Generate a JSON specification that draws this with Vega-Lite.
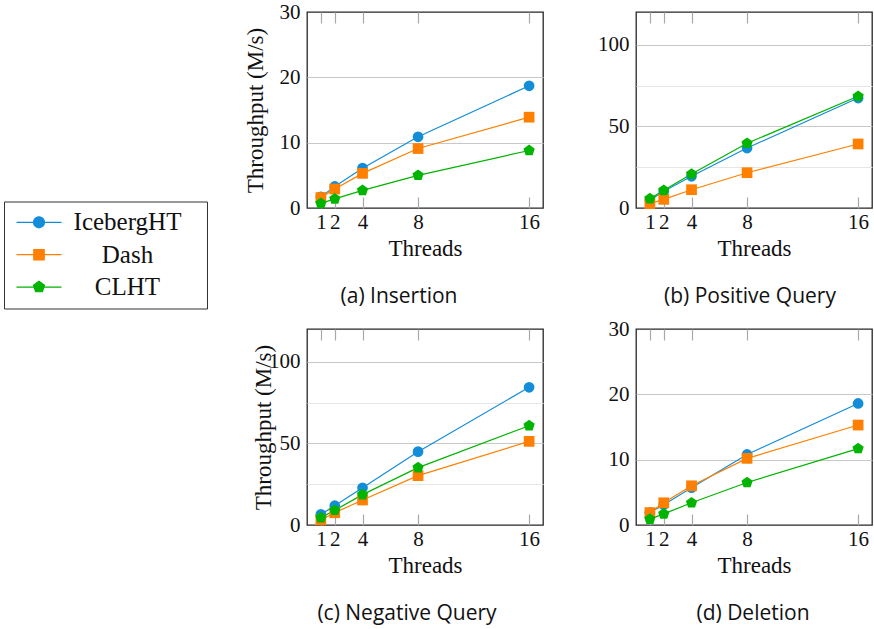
{
  "$schema": "https://vega.github.io/schema/vega-lite/v6.json",
  "padding": {"left": 3, "top": 0, "right": 0, "bottom": 0},
  "datasets": {
    "insertion": [
      {"threads": 1, "table": "IcebergHT", "throughput": 1.7},
      {"threads": 2, "table": "IcebergHT", "throughput": 3.3},
      {"threads": 4, "table": "IcebergHT", "throughput": 6.1},
      {"threads": 8, "table": "IcebergHT", "throughput": 10.9},
      {"threads": 16, "table": "IcebergHT", "throughput": 18.7},
      {"threads": 1, "table": "Dash", "throughput": 1.6},
      {"threads": 2, "table": "Dash", "throughput": 2.9},
      {"threads": 4, "table": "Dash", "throughput": 5.3},
      {"threads": 8, "table": "Dash", "throughput": 9.1},
      {"threads": 16, "table": "Dash", "throughput": 13.9},
      {"threads": 1, "table": "CLHT", "throughput": 0.7},
      {"threads": 2, "table": "CLHT", "throughput": 1.4},
      {"threads": 4, "table": "CLHT", "throughput": 2.7},
      {"threads": 8, "table": "CLHT", "throughput": 5.0},
      {"threads": 16, "table": "CLHT", "throughput": 8.8}
    ],
    "positive": [
      {"threads": 1, "table": "IcebergHT", "throughput": 4.8},
      {"threads": 2, "table": "IcebergHT", "throughput": 10.2},
      {"threads": 4, "table": "IcebergHT", "throughput": 19.4},
      {"threads": 8, "table": "IcebergHT", "throughput": 36.7},
      {"threads": 16, "table": "IcebergHT", "throughput": 67.3},
      {"threads": 1, "table": "Dash", "throughput": 2.7},
      {"threads": 2, "table": "Dash", "throughput": 5.3},
      {"threads": 4, "table": "Dash", "throughput": 11.2},
      {"threads": 8, "table": "Dash", "throughput": 21.6},
      {"threads": 16, "table": "Dash", "throughput": 39.2},
      {"threads": 1, "table": "CLHT", "throughput": 5.7},
      {"threads": 2, "table": "CLHT", "throughput": 10.8},
      {"threads": 4, "table": "CLHT", "throughput": 20.8},
      {"threads": 8, "table": "CLHT", "throughput": 39.6},
      {"threads": 16, "table": "CLHT", "throughput": 68.4}
    ],
    "negative": [
      {"threads": 1, "table": "IcebergHT", "throughput": 6.5},
      {"threads": 2, "table": "IcebergHT", "throughput": 11.8},
      {"threads": 4, "table": "IcebergHT", "throughput": 22.8},
      {"threads": 8, "table": "IcebergHT", "throughput": 44.9},
      {"threads": 16, "table": "IcebergHT", "throughput": 84.3},
      {"threads": 1, "table": "Dash", "throughput": 3.1},
      {"threads": 2, "table": "Dash", "throughput": 7.5},
      {"threads": 4, "table": "Dash", "throughput": 15.3},
      {"threads": 8, "table": "Dash", "throughput": 30.2},
      {"threads": 16, "table": "Dash", "throughput": 51.2},
      {"threads": 1, "table": "CLHT", "throughput": 4.5},
      {"threads": 2, "table": "CLHT", "throughput": 9.0},
      {"threads": 4, "table": "CLHT", "throughput": 18.6},
      {"threads": 8, "table": "CLHT", "throughput": 35.1},
      {"threads": 16, "table": "CLHT", "throughput": 60.8}
    ],
    "deletion": [
      {"threads": 1, "table": "IcebergHT", "throughput": 1.9},
      {"threads": 2, "table": "IcebergHT", "throughput": 3.1},
      {"threads": 4, "table": "IcebergHT", "throughput": 5.7},
      {"threads": 8, "table": "IcebergHT", "throughput": 10.8},
      {"threads": 16, "table": "IcebergHT", "throughput": 18.6},
      {"threads": 1, "table": "Dash", "throughput": 1.9},
      {"threads": 2, "table": "Dash", "throughput": 3.4},
      {"threads": 4, "table": "Dash", "throughput": 6.0},
      {"threads": 8, "table": "Dash", "throughput": 10.2},
      {"threads": 16, "table": "Dash", "throughput": 15.3},
      {"threads": 1, "table": "CLHT", "throughput": 0.9},
      {"threads": 2, "table": "CLHT", "throughput": 1.7},
      {"threads": 4, "table": "CLHT", "throughput": 3.4},
      {"threads": 8, "table": "CLHT", "throughput": 6.5},
      {"threads": 16, "table": "CLHT", "throughput": 11.7}
    ]
  },
  "columns": 2,
  "bounds": "flush",
  "spacing": {"row": 121, "column": 93},
  "resolve": {"scale": {"color": "shared"}, "legend": {"color": "shared"}},
  "concat": [
    {
      "width": 236, "height": 196,
      "data": {"name": "insertion"},
      "title": {"text": "(a) Insertion", "dx": -26},
      "layer": [
        {
          "mark": {"type": "line", "strokeWidth": 1.2},
          "encoding": {
            "x": {"field": "threads", "type": "quantitative", "scale": {"domain": [0, 17], "nice": false, "zero": false},
              "axis": {"orient": "bottom", "values": [1, 2, 4, 8, 16], "title": "Threads", "grid": false, "tickSize": -11, "tickColor": "#a8a8a8", "tickWidth": 1.2, "labelPadding": 14, "labelFlush": false, "labelOverlap": false, "titlePadding": 5, "labelAngle": 0}},
            "y": {"field": "throughput", "type": "quantitative", "scale": {"domain": [0, 30], "nice": false},
              "axis": {"values": [0, 5, 10, 15, 20, 25, 30], "title": "Throughput (M/s)", "labelExpr": "datum.value % 10 === 0 ? datum.label : ''", "ticks": false, "grid": true,
                "gridColor": {"condition": {"test": "datum.value % 10 === 0", "value": "#c8c8c8"}, "value": "#e6e6e6"},
                "gridOpacity": {"condition": {"test": "datum.value === 0 || datum.value === 30", "value": 0}, "value": 1},
                "gridWidth": 1.2, "labelPadding": 7, "titleX": -52, "titleBaseline": "middle"}},
            "color": {"field": "table", "type": "nominal", "scale": {"domain": ["IcebergHT", "Dash", "CLHT"], "range": ["#138dd8", "#ff8000", "#00b400"]},
              "legend": {"orient": "none", "legendX": -303, "legendY": 189.5, "title": null, "strokeColor": "#333333", "padding": 8.3,
                "labelFont": "Liberation Serif", "labelFontSize": 25, "labelColor": "#111111", "labelAlign": "center", "labelOffset": 76, "labelLimit": 300,
                "symbolOffset": 14.2, "symbolSize": 121, "rowPadding": 6.4, "symbolStrokeWidth": 1.2, "symbolOpacity": 1,
                "symbolType": {"expr": "datum.value === 'IcebergHT' ? 'M-4.09,0L4.09,0M1,0A1,1,0,1,1,-1,0A1,1,0,1,1,1,0ZM28.6,0' : datum.value === 'Dash' ? 'M-4.09,0L4.09,0M-0.95,-0.95L0.95,-0.95L0.95,0.95L-0.95,0.95ZM28.6,0' : 'M-4.09,0L4.09,0M0,-1.05L1,-0.324L0.617,0.849L-0.617,0.849L-1,-0.324ZM28.6,0'"},
                "symbolFillColor": {"expr": "scale('color', datum.value)"},
                "symbolStrokeColor": {"expr": "scale('color', datum.value)"}}}
          }
        },
        {
          "transform": [{"filter": {"field": "table", "equal": "IcebergHT"}}],
          "mark": {"type": "point", "shape": "circle", "filled": true, "size": 115, "opacity": 1},
          "encoding": {
            "x": {"field": "threads", "type": "quantitative", "scale": {"domain": [0, 17], "nice": false, "zero": false},
              "axis": {"orient": "top", "values": [1, 2, 4, 8, 16], "title": null, "labels": false, "grid": false, "tickSize": -11, "tickColor": "#a8a8a8", "tickWidth": 1.2}},
            "y": {"field": "throughput", "type": "quantitative"},
            "color": {"field": "table", "type": "nominal", "legend": null}
          }
        },
        {
          "transform": [{"filter": {"field": "table", "equal": "Dash"}}],
          "mark": {"type": "point", "shape": "square", "filled": true, "size": 115, "opacity": 1},
          "encoding": {
            "x": {"field": "threads", "type": "quantitative", "scale": {"domain": [0, 17], "nice": false, "zero": false}, "axis": null},
            "y": {"field": "throughput", "type": "quantitative"},
            "color": {"field": "table", "type": "nominal", "legend": null}
          }
        },
        {
          "transform": [{"filter": {"field": "table", "equal": "CLHT"}}],
          "mark": {"type": "point", "shape": "M0,-1.1L1.046,-0.34L0.647,0.89L-0.647,0.89L-1.046,-0.34Z", "filled": true, "size": 115, "opacity": 1},
          "encoding": {
            "x": {"field": "threads", "type": "quantitative", "scale": {"domain": [0, 17], "nice": false, "zero": false}, "axis": null},
            "y": {"field": "throughput", "type": "quantitative"},
            "color": {"field": "table", "type": "nominal", "legend": null}
          }
        }
      ],
      "resolve": {"axis": {"x": "independent"}}
    },
    {
      "width": 236, "height": 196,
      "data": {"name": "positive"},
      "title": {"text": "(b) Positive Query", "dx": -4},
      "layer": [
        {
          "mark": {"type": "line", "strokeWidth": 1.2},
          "encoding": {
            "x": {"field": "threads", "type": "quantitative", "scale": {"domain": [0, 17], "nice": false, "zero": false},
              "axis": {"orient": "bottom", "values": [1, 2, 4, 8, 16], "title": "Threads", "grid": false, "tickSize": -11, "tickColor": "#a8a8a8", "tickWidth": 1.2, "labelPadding": 14, "labelFlush": false, "labelOverlap": false, "titlePadding": 5, "labelAngle": 0}},
            "y": {"field": "throughput", "type": "quantitative", "scale": {"domain": [0, 120], "nice": false},
              "axis": {"values": [0, 25, 50, 75, 100], "title": null, "labelExpr": "datum.value % 50 === 0 ? datum.label : ''", "ticks": false, "grid": true,
                "gridColor": {"condition": {"test": "datum.value % 50 === 0", "value": "#c8c8c8"}, "value": "#e6e6e6"},
                "gridOpacity": {"condition": {"test": "datum.value === 0", "value": 0}, "value": 1},
                "gridWidth": 1.2, "labelPadding": 7}},
            "color": {"field": "table", "type": "nominal"}
          }
        },
        {
          "transform": [{"filter": {"field": "table", "equal": "IcebergHT"}}],
          "mark": {"type": "point", "shape": "circle", "filled": true, "size": 115, "opacity": 1},
          "encoding": {
            "x": {"field": "threads", "type": "quantitative", "scale": {"domain": [0, 17], "nice": false, "zero": false},
              "axis": {"orient": "top", "values": [1, 2, 4, 8, 16], "title": null, "labels": false, "grid": false, "tickSize": -11, "tickColor": "#a8a8a8", "tickWidth": 1.2}},
            "y": {"field": "throughput", "type": "quantitative"},
            "color": {"field": "table", "type": "nominal", "legend": null}
          }
        },
        {
          "transform": [{"filter": {"field": "table", "equal": "Dash"}}],
          "mark": {"type": "point", "shape": "square", "filled": true, "size": 115, "opacity": 1},
          "encoding": {
            "x": {"field": "threads", "type": "quantitative", "scale": {"domain": [0, 17], "nice": false, "zero": false}, "axis": null},
            "y": {"field": "throughput", "type": "quantitative"},
            "color": {"field": "table", "type": "nominal", "legend": null}
          }
        },
        {
          "transform": [{"filter": {"field": "table", "equal": "CLHT"}}],
          "mark": {"type": "point", "shape": "M0,-1.1L1.046,-0.34L0.647,0.89L-0.647,0.89L-1.046,-0.34Z", "filled": true, "size": 115, "opacity": 1},
          "encoding": {
            "x": {"field": "threads", "type": "quantitative", "scale": {"domain": [0, 17], "nice": false, "zero": false}, "axis": null},
            "y": {"field": "throughput", "type": "quantitative"},
            "color": {"field": "table", "type": "nominal", "legend": null}
          }
        }
      ],
      "resolve": {"axis": {"x": "independent"}}
    },
    {
      "width": 236, "height": 196,
      "data": {"name": "negative"},
      "title": {"text": "(c) Negative Query", "dx": -18},
      "layer": [
        {
          "mark": {"type": "line", "strokeWidth": 1.2},
          "encoding": {
            "x": {"field": "threads", "type": "quantitative", "scale": {"domain": [0, 17], "nice": false, "zero": false},
              "axis": {"orient": "bottom", "values": [1, 2, 4, 8, 16], "title": "Threads", "grid": false, "tickSize": -11, "tickColor": "#a8a8a8", "tickWidth": 1.2, "labelPadding": 14, "labelFlush": false, "labelOverlap": false, "titlePadding": 5, "labelAngle": 0}},
            "y": {"field": "throughput", "type": "quantitative", "scale": {"domain": [0, 120], "nice": false},
              "axis": {"values": [0, 25, 50, 75, 100], "title": "Throughput (M/s)", "labelExpr": "datum.value % 50 === 0 ? datum.label : ''", "ticks": false, "grid": true,
                "gridColor": {"condition": {"test": "datum.value % 50 === 0", "value": "#c8c8c8"}, "value": "#e6e6e6"},
                "gridOpacity": {"condition": {"test": "datum.value === 0", "value": 0}, "value": 1},
                "gridWidth": 1.2, "labelPadding": 7, "titleX": -44, "titleBaseline": "middle"}},
            "color": {"field": "table", "type": "nominal"}
          }
        },
        {
          "transform": [{"filter": {"field": "table", "equal": "IcebergHT"}}],
          "mark": {"type": "point", "shape": "circle", "filled": true, "size": 115, "opacity": 1},
          "encoding": {
            "x": {"field": "threads", "type": "quantitative", "scale": {"domain": [0, 17], "nice": false, "zero": false},
              "axis": {"orient": "top", "values": [1, 2, 4, 8, 16], "title": null, "labels": false, "grid": false, "tickSize": -11, "tickColor": "#a8a8a8", "tickWidth": 1.2}},
            "y": {"field": "throughput", "type": "quantitative"},
            "color": {"field": "table", "type": "nominal", "legend": null}
          }
        },
        {
          "transform": [{"filter": {"field": "table", "equal": "Dash"}}],
          "mark": {"type": "point", "shape": "square", "filled": true, "size": 115, "opacity": 1},
          "encoding": {
            "x": {"field": "threads", "type": "quantitative", "scale": {"domain": [0, 17], "nice": false, "zero": false}, "axis": null},
            "y": {"field": "throughput", "type": "quantitative"},
            "color": {"field": "table", "type": "nominal", "legend": null}
          }
        },
        {
          "transform": [{"filter": {"field": "table", "equal": "CLHT"}}],
          "mark": {"type": "point", "shape": "M0,-1.1L1.046,-0.34L0.647,0.89L-0.647,0.89L-1.046,-0.34Z", "filled": true, "size": 115, "opacity": 1},
          "encoding": {
            "x": {"field": "threads", "type": "quantitative", "scale": {"domain": [0, 17], "nice": false, "zero": false}, "axis": null},
            "y": {"field": "throughput", "type": "quantitative"},
            "color": {"field": "table", "type": "nominal", "legend": null}
          }
        }
      ],
      "resolve": {"axis": {"x": "independent"}}
    },
    {
      "width": 236, "height": 196,
      "data": {"name": "deletion"},
      "title": {"text": "(d) Deletion", "dx": -1},
      "layer": [
        {
          "mark": {"type": "line", "strokeWidth": 1.2},
          "encoding": {
            "x": {"field": "threads", "type": "quantitative", "scale": {"domain": [0, 17], "nice": false, "zero": false},
              "axis": {"orient": "bottom", "values": [1, 2, 4, 8, 16], "title": "Threads", "grid": false, "tickSize": -11, "tickColor": "#a8a8a8", "tickWidth": 1.2, "labelPadding": 14, "labelFlush": false, "labelOverlap": false, "titlePadding": 5, "labelAngle": 0}},
            "y": {"field": "throughput", "type": "quantitative", "scale": {"domain": [0, 30], "nice": false},
              "axis": {"values": [0, 5, 10, 15, 20, 25, 30], "title": null, "labelExpr": "datum.value % 10 === 0 ? datum.label : ''", "ticks": false, "grid": true,
                "gridColor": {"condition": {"test": "datum.value % 10 === 0", "value": "#c8c8c8"}, "value": "#e6e6e6"},
                "gridOpacity": {"condition": {"test": "datum.value === 0 || datum.value === 30", "value": 0}, "value": 1},
                "gridWidth": 1.2, "labelPadding": 7}},
            "color": {"field": "table", "type": "nominal"}
          }
        },
        {
          "transform": [{"filter": {"field": "table", "equal": "IcebergHT"}}],
          "mark": {"type": "point", "shape": "circle", "filled": true, "size": 115, "opacity": 1},
          "encoding": {
            "x": {"field": "threads", "type": "quantitative", "scale": {"domain": [0, 17], "nice": false, "zero": false},
              "axis": {"orient": "top", "values": [1, 2, 4, 8, 16], "title": null, "labels": false, "grid": false, "tickSize": -11, "tickColor": "#a8a8a8", "tickWidth": 1.2}},
            "y": {"field": "throughput", "type": "quantitative"},
            "color": {"field": "table", "type": "nominal", "legend": null}
          }
        },
        {
          "transform": [{"filter": {"field": "table", "equal": "Dash"}}],
          "mark": {"type": "point", "shape": "square", "filled": true, "size": 115, "opacity": 1},
          "encoding": {
            "x": {"field": "threads", "type": "quantitative", "scale": {"domain": [0, 17], "nice": false, "zero": false}, "axis": null},
            "y": {"field": "throughput", "type": "quantitative"},
            "color": {"field": "table", "type": "nominal", "legend": null}
          }
        },
        {
          "transform": [{"filter": {"field": "table", "equal": "CLHT"}}],
          "mark": {"type": "point", "shape": "M0,-1.1L1.046,-0.34L0.647,0.89L-0.647,0.89L-1.046,-0.34Z", "filled": true, "size": 115, "opacity": 1},
          "encoding": {
            "x": {"field": "threads", "type": "quantitative", "scale": {"domain": [0, 17], "nice": false, "zero": false}, "axis": null},
            "y": {"field": "throughput", "type": "quantitative"},
            "color": {"field": "table", "type": "nominal", "legend": null}
          }
        }
      ],
      "resolve": {"axis": {"x": "independent"}}
    }
  ],
  "config": {
    "view": {"stroke": "#262626", "strokeWidth": 1.3},
    "axis": {"labelFont": "Liberation Serif", "labelFontSize": 21, "labelColor": "#111111", "titleFont": "Liberation Serif", "titleFontSize": 23, "titleFontWeight": "normal", "titleColor": "#111111", "domain": false},
    "title": {"orient": "bottom", "anchor": "middle", "frame": "group", "font": "Open Sans", "fontSize": 21, "fontWeight": "normal", "color": "#111111", "offset": 26}
  }
}
